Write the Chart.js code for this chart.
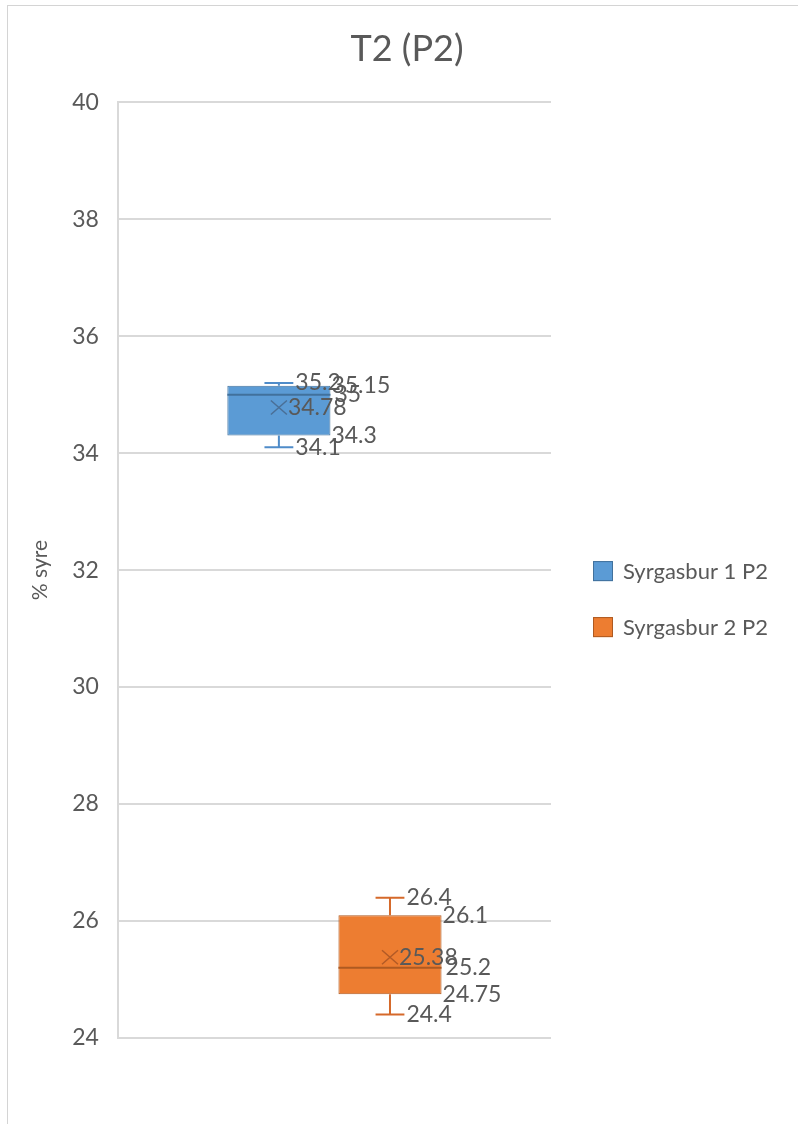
<!DOCTYPE html>
<html>
<head>
<meta charset="utf-8">
<script src="https://cdn.jsdelivr.net/npm/chart.js@4.4.1/dist/chart.umd.min.js"></script>
<style>
  html, body { margin: 0; padding: 0; background: #ffffff; }
  #frame { position: absolute; left: 7px; top: 5px; width: 820px; height: 1140px;
           border-left: 1px solid #d4d4d4; border-top: 1px solid #d4d4d4; }
  #wrap { position: absolute; left: 0; top: 0; width: 798px; height: 1124px; }
</style>
</head>
<body>
<div id="frame"></div>
<div id="wrap"><canvas id="chart" width="798" height="1124"></canvas></div>
<script>
// Five-number summaries plus mean for each series
const categories = ['P2'];
const seriesNames = ['Syrgasbur 1 P2', 'Syrgasbur 2 P2'];
const minValues = [34.1, 24.4];
const q1Values = [34.3, 24.75];
const medianValues = [35, 25.2];
const q3Values = [35.15, 26.1];
const maxValues = [35.2, 26.4];
const meanValues = [34.78, 25.38];
const yTickMin = 24;
const yTickMax = 40;
const yTickStep = 2;

const FONT = 'Lato, "Open Sans", sans-serif';
const TEXT = '#595959';
const fillColors = ['#5B9BD5', '#ED7D31'];
const edgeColors = ['#41719C', '#AE5A21'];
const whiskerColors = ['#4F8CC9', '#D5692A'];
const meanColors = ['#4A6F96', '#B25A26'];

// Boxes are floating bars from Q1 to Q3
const datasets = seriesNames.map((name, i) => ({
  label: name,
  data: [[q1Values[i], q3Values[i]]],
  backgroundColor: fillColors[i],
  borderColor: edgeColors[i],
  borderWidth: 1,
  borderSkipped: false,
  categoryPercentage: 0.513,
  barPercentage: 0.928
}));

// Whiskers, median, mean marker and value labels on top of each box
const boxDetails = {
  id: 'boxDetails',
  afterDatasetsDraw(chart) {
    const ctx = chart.ctx;
    const y = chart.scales.y;
    ctx.save();
    chart.data.datasets.forEach((ds, i) => {
      const bar = chart.getDatasetMeta(i).data[0];
      const cx = bar.x;
      const half = bar.width / 2;
      const capHalf = bar.width * 0.14;
      const pMin = y.getPixelForValue(minValues[i]);
      const pQ1 = y.getPixelForValue(q1Values[i]);
      const pMed = y.getPixelForValue(medianValues[i]);
      const pQ3 = y.getPixelForValue(q3Values[i]);
      const pMax = y.getPixelForValue(maxValues[i]);
      const pMean = y.getPixelForValue(meanValues[i]);

      ctx.lineCap = 'butt';
      ctx.strokeStyle = whiskerColors[i];
      ctx.lineWidth = 2;
      ctx.beginPath();
      ctx.moveTo(cx, pQ3); ctx.lineTo(cx, pMax);
      ctx.moveTo(cx - capHalf, pMax); ctx.lineTo(cx + capHalf, pMax);
      ctx.moveTo(cx, pQ1); ctx.lineTo(cx, pMin);
      ctx.moveTo(cx - capHalf, pMin); ctx.lineTo(cx + capHalf, pMin);
      ctx.stroke();

      ctx.strokeStyle = edgeColors[i];
      ctx.lineWidth = 2;
      ctx.beginPath();
      ctx.moveTo(cx - half, pMed); ctx.lineTo(cx + half, pMed);
      ctx.stroke();

      const mx = 8, my = 7;
      ctx.strokeStyle = meanColors[i];
      ctx.lineWidth = 1.5;
      ctx.beginPath();
      ctx.moveTo(cx - mx, pMean - my); ctx.lineTo(cx + mx, pMean + my);
      ctx.moveTo(cx + mx, pMean - my); ctx.lineTo(cx - mx, pMean + my);
      ctx.stroke();

      ctx.fillStyle = TEXT;
      ctx.font = '23px ' + FONT;
      ctx.textAlign = 'left';
      ctx.textBaseline = 'middle';
      ctx.fillText(String(maxValues[i]), cx + capHalf + 2, pMax);
      ctx.fillText(String(q3Values[i]), cx + half + 1, pQ3);
      ctx.fillText(String(medianValues[i]), cx + half + 4, pMed);
      ctx.fillText(String(meanValues[i]), cx + mx + 1, pMean);
      ctx.fillText(String(q1Values[i]), cx + half + 1, pQ1);
      ctx.fillText(String(minValues[i]), cx + capHalf + 2, pMin);
    });
    ctx.restore();
  }
};

// Legend drawn to the right of the plot area
const sideLegend = {
  id: 'sideLegend',
  afterDraw(chart) {
    const ctx = chart.ctx;
    const area = chart.chartArea;
    const x0 = area.right + 42;
    const yc = (area.top + area.bottom) / 2 + 29;
    const gap = 56;
    ctx.save();
    ctx.font = '22px ' + FONT;
    ctx.textAlign = 'left';
    ctx.textBaseline = 'middle';
    chart.data.datasets.forEach((ds, i) => {
      const cy = yc + (i - (chart.data.datasets.length - 1) / 2) * gap;
      ctx.fillStyle = ds.backgroundColor;
      ctx.fillRect(x0, cy - 10, 20, 20);
      ctx.strokeStyle = ds.borderColor;
      ctx.lineWidth = 1;
      ctx.strokeRect(x0 + 0.5, cy - 9.5, 19, 19);
      ctx.fillStyle = TEXT;
      ctx.fillText(ds.label, x0 + 30, cy + 1);
    });
    ctx.restore();
  }
};

new Chart(document.getElementById('chart'), {
  type: 'bar',
  data: { labels: categories, datasets: datasets },
  options: {
    responsive: false,
    animation: false,
    layout: { padding: { left: 16, right: 0, top: 0, bottom: 86 } },
    plugins: {
      legend: { display: false },
      tooltip: { enabled: false },
      title: {
        display: true,
        text: 'T2 (P2)',
        color: TEXT,
        font: { family: FONT, size: 36, weight: 'normal' },
        padding: { top: 28, bottom: 31 }
      }
    },
    scales: {
      x: { display: false },
      y: {
        min: yTickMin,
        max: yTickMax,
        ticks: { stepSize: yTickStep, color: TEXT, font: { family: FONT, size: 23 }, padding: 19 },
        grid: { color: '#d9d9d9', lineWidth: 2, drawTicks: false },
        border: { display: true, color: '#d9d9d9', width: 2 },
        title: {
          display: true,
          text: '% syre',
          color: TEXT,
          font: { family: FONT, size: 21 },
          padding: { top: 12, bottom: 0 }
        }
      },
      // empty right-hand axis that reserves room for the legend
      yLegendSpace: {
        position: 'right',
        display: true,
        grid: { display: false, drawTicks: false },
        ticks: { display: false },
        border: { display: false },
        afterFit(scale) { scale.width = 247; }
      }
    }
  },
  plugins: [boxDetails, sideLegend]
});
</script>
</body>
</html>
